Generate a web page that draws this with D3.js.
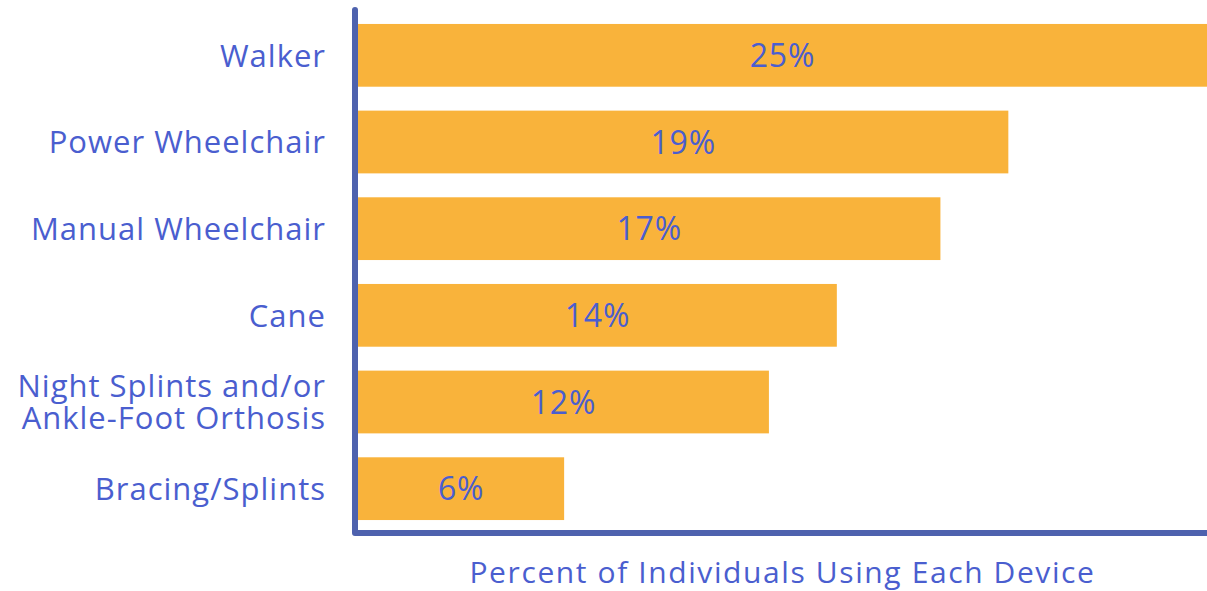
<html>
<head>
  <meta charset="utf-8">
  <script src="https://cdn.jsdelivr.net/npm/d3@7"></script>
  <style>
    body { margin: 0; background: #fff; }
    text { font-family: "Open Sans", sans-serif; fill: #4a5ecf; }
  </style>
</head>
<body>
  <svg width="1207" height="591"></svg>
  <script>
    const devices = ["Walker", "Power Wheelchair", "Manual Wheelchair", "Cane",
      "Night Splints and/or|Ankle-Foot Orthosis", "Bracing/Splints"];
    // bar lengths; labels are the rounded values
    const percents = [25, 19.15, 17.15, 14.1, 12.1, 6.07];
    const axisTitle = "Percent of Individuals Using Each Device";

    const svg = d3.select("svg");
    const left = 358, right = 1207;

    const x = d3.scaleLinear().domain([0, 25]).range([left, right]);
    const y = d3.scaleBand().domain(devices).range([12, 532])
      .paddingInner(0.276).paddingOuter(0.138);

    const rows = devices.map((d, i) => ({ name: d, value: percents[i] }));
    const fmt = d3.format(".0f");

    svg.selectAll("rect.bar")
      .data(rows)
      .enter()
      .append("rect")
      .attr("class", "bar")
      .attr("x", x(0))
      .attr("y", d => y(d.name))
      .attr("width", d => x(d.value) - x(0))
      .attr("height", y.bandwidth())
      .attr("fill", "#f9b33b");

    svg.selectAll("text.val")
      .data(rows)
      .enter()
      .append("text")
      .attr("class", "val")
      .attr("x", d => (x(0) + x(d.value)) / 2)
      .attr("y", d => y(d.name) + y.bandwidth() / 2)
      .attr("dy", "0.36em")
      .attr("text-anchor", "middle")
      .style("font-size", "32px")
      .style("letter-spacing", "0.8px")
      .text(d => fmt(d.value) + "%");

    // category labels, split on "|"
    const lab = svg.selectAll("text.cat")
      .data(rows)
      .enter()
      .append("text")
      .attr("class", "cat")
      .attr("text-anchor", "end")
      .style("font-size", "31px")
      .style("letter-spacing", "1px")
      .attr("transform", d => `translate(326,${y(d.name) + y.bandwidth() / 2})`);
    lab.each(function (d) {
      const parts = d.name.split("|");
      const t = d3.select(this);
      parts.forEach((p, i) => {
        t.append("tspan")
          .attr("x", 0)
          .attr("y", (i - (parts.length - 1) / 2) * 32)
          .attr("dy", "0.36em")
          .text(p);
      });
    });

    // axis lines
    svg.append("path")
      .attr("d", `M355,10 V533 H${right + 10}`)
      .attr("fill", "none")
      .attr("stroke", "#4e62ae")
      .attr("stroke-width", 6)
      .attr("stroke-linecap", "round")
      .attr("stroke-linejoin", "round");

    svg.append("text")
      .attr("x", (left + right) / 2)
      .attr("y", 583)
      .attr("text-anchor", "middle")
      .style("font-size", "30px")
      .style("letter-spacing", "1.6px")
      .text(axisTitle);
  </script>
</body>
</html>
